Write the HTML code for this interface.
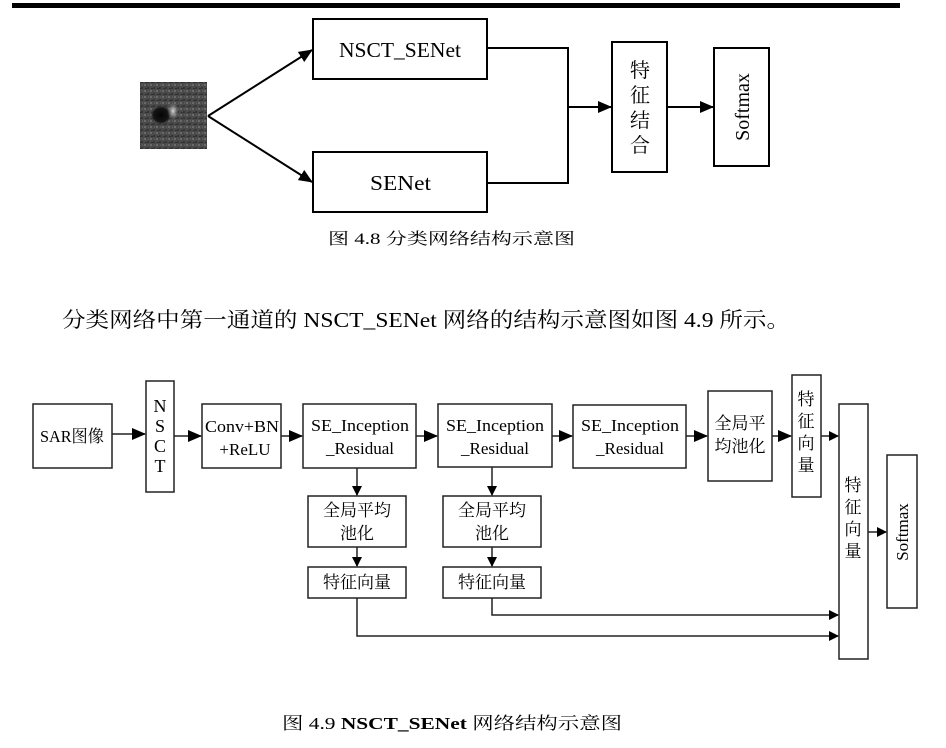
<!DOCTYPE html>
<html><head><meta charset="utf-8"><style>
html,body{margin:0;padding:0;background:#fff;}
svg{display:block;}
text{font-family:"Liberation Serif","Noto Serif CJK SC",serif;fill:#000;}
</style></head><body>
<svg width="946" height="748" viewBox="0 0 946 748" xmlns="http://www.w3.org/2000/svg">
<defs>
<marker id="a" markerWidth="10" markerHeight="10" refX="9" refY="5" orient="auto" markerUnits="userSpaceOnUse"><path d="M0,0 L10,5 L0,10 z" fill="#000"/></marker>
<marker id="b" markerWidth="14" markerHeight="12" refX="13" refY="6" orient="auto" markerUnits="userSpaceOnUse"><path d="M0,0 L14,6 L0,12 z" fill="#000"/></marker>
<radialGradient id="spot" cx="0.5" cy="0.5" r="0.5"><stop offset="0" stop-color="#050505"/><stop offset="0.7" stop-color="#151515"/><stop offset="1" stop-color="#444" stop-opacity="0"/></radialGradient>
<radialGradient id="bright" cx="0.5" cy="0.5" r="0.5"><stop offset="0" stop-color="#ddd"/><stop offset="1" stop-color="#777" stop-opacity="0"/></radialGradient>
<pattern id="noise" width="6" height="6" patternUnits="userSpaceOnUse"><rect width="6" height="6" fill="#4a4a4a"/><rect x="0" y="0" width="2" height="2" fill="#6a6a6a"/><rect x="3" y="3" width="2" height="2" fill="#363636"/><rect x="4" y="0" width="1" height="2" fill="#5c5c5c"/><rect x="1" y="4" width="2" height="1" fill="#303030"/></pattern>
</defs>
<rect x="12" y="3" width="888" height="5" fill="#000"/>

<!-- Fig 4.8 -->
<rect x="140" y="82" width="67" height="67" fill="url(#noise)"/>
<ellipse cx="161" cy="115" rx="11" ry="10" fill="url(#spot)"/>
<ellipse cx="173" cy="111" rx="6" ry="9" fill="url(#bright)"/>
<g fill="none" stroke="#000" stroke-width="2">
<rect x="313" y="19" width="174" height="60" fill="#fff"/>
<rect x="313" y="152" width="174" height="60" fill="#fff"/>
<rect x="612" y="42" width="55" height="130" fill="#fff"/>
<rect x="714" y="48" width="55" height="118" fill="#fff"/>
<line x1="208" y1="116" x2="312" y2="50" marker-end="url(#b)"/>
<line x1="208" y1="116" x2="312" y2="182" marker-end="url(#b)"/>
<polyline points="487,48 568,48 568,183 487,183"/>
<line x1="568" y1="107" x2="611" y2="107" marker-end="url(#b)"/>
<line x1="667" y1="107" x2="713" y2="107" marker-end="url(#b)"/>
</g>
<text x="339" y="57" font-size="21" textLength="122" lengthAdjust="spacingAndGlyphs">NSCT_SENet</text>
<text x="370" y="190" font-size="21" textLength="61" lengthAdjust="spacingAndGlyphs">SENet</text>
<text font-size="20" text-anchor="middle"><tspan x="640" y="77">特</tspan><tspan x="640" y="102">征</tspan><tspan x="640" y="127">结</tspan><tspan x="640" y="152">合</tspan></text>
<text x="0" y="0" font-size="20" text-anchor="middle" transform="translate(749,107) rotate(-90)">Softmax</text>
<text x="328" y="244" font-size="16" textLength="247" lengthAdjust="spacingAndGlyphs">图 4.8  分类网络结构示意图</text>

<text x="62" y="327" font-size="21" textLength="728" lengthAdjust="spacingAndGlyphs">分类网络中第一通道的 NSCT_SENet 网络的结构示意图如图 4.9 所示。</text>

<!-- Fig 4.9 -->
<g fill="#fff" stroke="#222" stroke-width="1.5">
<rect x="33" y="404" width="79" height="64"/>
<rect x="146" y="381" width="28" height="111"/>
<rect x="202" y="404" width="79" height="64"/>
<rect x="303" y="404" width="113" height="64"/>
<rect x="438" y="404" width="114" height="63"/>
<rect x="573" y="405" width="113" height="63"/>
<rect x="708" y="391" width="64" height="90"/>
<rect x="792" y="375" width="29" height="122"/>
<rect x="839" y="404" width="29" height="255"/>
<rect x="887" y="455" width="30" height="153"/>
<rect x="308" y="496" width="98" height="51"/>
<rect x="308" y="567" width="98" height="31"/>
<rect x="443" y="496" width="98" height="51"/>
<rect x="443" y="567" width="98" height="31"/>
</g>
<g fill="none" stroke="#222" stroke-width="1.5">
<line x1="112" y1="434" x2="145" y2="434" marker-end="url(#b)"/>
<line x1="174" y1="436" x2="201" y2="436" marker-end="url(#b)"/>
<line x1="281" y1="436" x2="302" y2="436" marker-end="url(#b)"/>
<line x1="416" y1="436" x2="437" y2="436" marker-end="url(#b)"/>
<line x1="552" y1="436" x2="572" y2="436" marker-end="url(#b)"/>
<line x1="686" y1="436" x2="707" y2="436" marker-end="url(#b)"/>
<line x1="772" y1="436" x2="791" y2="436" marker-end="url(#b)"/>
<line x1="821" y1="436" x2="838" y2="436" marker-end="url(#a)"/>
<line x1="868" y1="532" x2="886" y2="532" marker-end="url(#a)"/>
<line x1="357" y1="468" x2="357" y2="495" marker-end="url(#a)"/>
<line x1="357" y1="547" x2="357" y2="566" marker-end="url(#a)"/>
<line x1="492" y1="467" x2="492" y2="495" marker-end="url(#a)"/>
<line x1="492" y1="547" x2="492" y2="566" marker-end="url(#a)"/>
<polyline points="357,598 357,636 838,636" marker-end="url(#a)"/>
<polyline points="492,598 492,615 838,615" marker-end="url(#a)"/>
</g>
<g font-size="17" text-anchor="middle">
<text x="72" y="442" textLength="64" lengthAdjust="spacingAndGlyphs">SAR图像</text>
<text font-size="18"><tspan x="160" y="412">N</tspan><tspan x="160" y="432">S</tspan><tspan x="160" y="452">C</tspan><tspan x="160" y="472">T</tspan></text>
<text x="242" y="432" textLength="74" lengthAdjust="spacingAndGlyphs">Conv+BN</text>
<text x="245" y="455">+ReLU</text>
<text x="360" y="431" textLength="98" lengthAdjust="spacingAndGlyphs">SE_Inception</text>
<text x="360" y="454">_Residual</text>
<text x="495" y="431" textLength="98" lengthAdjust="spacingAndGlyphs">SE_Inception</text>
<text x="495" y="454">_Residual</text>
<text x="630" y="431" textLength="98" lengthAdjust="spacingAndGlyphs">SE_Inception</text>
<text x="630" y="454">_Residual</text>
<text x="740" y="429">全局平</text>
<text x="740" y="452">均池化</text>
<text><tspan x="806" y="405">特</tspan><tspan x="806" y="427">征</tspan><tspan x="806" y="449">向</tspan><tspan x="806" y="471">量</tspan></text>
<text><tspan x="853" y="491">特</tspan><tspan x="853" y="513">征</tspan><tspan x="853" y="535">向</tspan><tspan x="853" y="557">量</tspan></text>
<text x="357" y="516">全局平均</text>
<text x="357" y="539">池化</text>
<text x="357" y="588">特征向量</text>
<text x="492" y="516">全局平均</text>
<text x="492" y="539">池化</text>
<text x="492" y="588">特征向量</text>
</g>
<text font-size="17" text-anchor="middle" transform="translate(908,532) rotate(-90)">Softmax</text>
<text x="282" y="729" font-size="17" textLength="340" lengthAdjust="spacingAndGlyphs">图 4.9    <tspan font-weight="bold">NSCT_SENet</tspan> 网络结构示意图</text>
</svg>
</body></html>
